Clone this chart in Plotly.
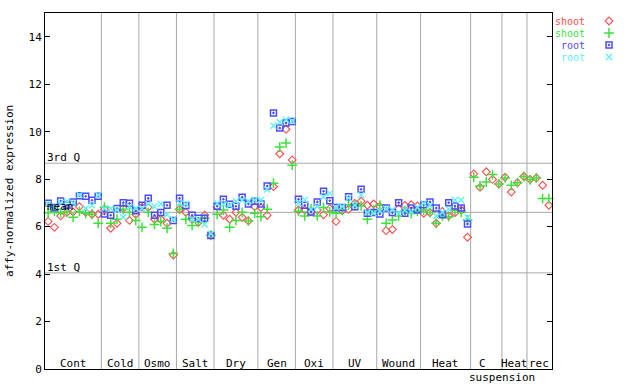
import plotly.graph_objects as go

# ---------------- data ----------------
groups = ["Cont", "Cold", "Osmo", "Salt", "Dry", "Gen", "Oxi", "UV", "Wound", "Heat", "C", "Heat", "rec"]
group_sizes = [9, 6, 6, 6, 7, 6, 6, 7, 7, 8, 5, 4, 4]

shoot_red = [6.22, 5.97, 6.45, 6.60, 6.62, 6.84, 6.60, 6.52, 6.52,
             6.73, 5.93, 6.14, 6.77, 6.26, 6.52,
             6.82, 6.82, 6.31, 6.31, 6.14, 4.80,
             6.73, 6.60, 6.31, 6.18, 6.48, 5.63,
             6.84, 6.48, 6.31, 6.60, 6.39, 6.24, 6.84,
             6.80, 6.48, 7.69, 9.07, 10.10, 8.81,
             6.70, 6.70, 6.62, 6.70, 6.50, 6.76,
             6.22, 6.67, 6.73, 6.98, 7.07, 6.90, 6.95,
             6.85, 5.83, 5.88, 6.75, 6.89, 6.92, 6.87,
             6.56, 6.59, 6.14, 6.64, 6.45, 6.59, 6.70, 5.55,
             8.22, 7.66, 8.31, 7.99, 7.80,
             8.08, 7.46, 7.85, 8.11,
             7.99, 8.05, 7.74, 6.90]

shoot_green = [6.58, 6.65, 6.58, 6.62, 6.39, 6.64, 6.56, 6.52, 6.14,
               6.82, 6.14, 6.31, 6.73, 6.60, 6.26,
               5.97, 6.60, 6.09, 6.22, 5.93, 4.87,
               6.73, 6.31, 6.05, 6.18, 6.35, 5.63,
               6.52, 6.70, 5.97, 6.26, 6.60, 6.24, 6.56,
               6.42, 6.73, 7.83, 9.35, 9.52, 8.59,
               6.65, 6.45, 6.76, 6.45, 6.81, 6.62,
               6.56, 6.70, 6.92, 6.90, 6.87, 6.31, 6.70,
               6.90, 6.14, 6.28, 6.45, 6.67, 6.56, 6.64,
               6.70, 6.59, 6.14, 6.45, 6.42, 6.70, 6.60, 6.28,
               8.08, 7.71, 7.88, 8.19, 7.80,
               8.05, 7.74, 7.85, 8.11,
               7.97, 8.05, 7.18, 7.18]

root_blue = [6.98, 6.80, 7.08, 6.90, 7.04, 7.30, 7.28, 7.11, 7.28,
             6.53, 6.48, 6.76, 7.01, 6.98, 6.67,
             6.90, 7.19, 6.48, 6.59, 6.90, 6.26,
             7.19, 6.89, 6.48, 6.35, 6.35, 5.63,
             6.86, 7.15, 6.94, 6.86, 7.24, 6.95, 7.07,
             6.95, 7.71, 10.79, 10.15, 10.36, 10.43,
             7.15, 6.90, 6.62, 7.04, 7.49, 7.09,
             6.81, 6.81, 7.26, 6.84, 7.57, 6.56, 6.59,
             6.53, 6.78, 6.59, 7.01, 6.56, 6.78, 6.70,
             6.92, 7.04, 6.78, 6.50, 7.01, 6.87, 6.78, 6.11,
             None, None, None, None, None,
             None, None, None, None,
             None, None, None, None]

root_cyan = [6.95, 6.85, 7.00, 7.07, 7.00, 7.33, 6.76, 6.90, 7.33,
             6.76, 6.76, 6.70, 6.39, 6.84, 6.76,
             6.75, 6.95, 6.85, 6.95, 6.50, 6.30,
             6.98, 6.95, 6.31, 6.31, 6.09, 5.70,
             6.98, 6.94, 6.90, 7.07, 7.12, 7.07, 7.12,
             7.12, 7.56, 10.25, 10.40, 10.50, 10.45,
             6.98, 7.12, 6.73, 6.85, 7.26, 7.40,
             6.80, 6.85, 7.20, 6.90, 7.33, 6.60, 6.56,
             6.66, 6.75, 6.70, 6.56, 6.70, 6.62, 6.80,
             6.98, 6.90, 6.45, 6.60, 6.73, 7.12, 7.12, 6.39,
             None, None, None, None, None,
             None, None, None, None,
             None, None, None, None]

mean_val = 6.60
q3_val = 8.67
q1_val = 4.05
y_ticks = [0, 2, 4, 6, 8, 10, 12, 14]

series_names = ["shoot", "shoot", "root", "root"]
series_colors = ["#ff4d4d", "#3ee03e", "#4b4bff", "#5ff2f2"]

# ---------------- figure ----------------
W, H = 640, 384
FONT = "DejaVu Sans Mono"
n = len(shoot_red)
xs = list(range(n))
GRAY = "#a8a8a8"

fig = go.Figure()

symbols = [dict(symbol="diamond-open", size=6, lw=1.1),
           dict(symbol="cross-thin-open", size=7, lw=1.5),
           dict(symbol="square-open-dot", size=6, lw=1.5),
           dict(symbol="x-thin-open", size=6, lw=1.4)]
all_series = [shoot_red, shoot_green, root_blue, root_cyan]

for vals, name, col, sym in zip(all_series, series_names, series_colors, symbols):
    fig.add_trace(go.Scatter(
        x=xs, y=vals, mode="markers", name=name,
        marker=dict(symbol=sym["symbol"], size=sym["size"], color=col,
                    line=dict(color=col, width=sym["lw"])),
        showlegend=False, cliponaxis=False))

# group separators
shapes = []
pos = 0
bounds = []
for s in group_sizes:
    bounds.append((pos, pos + s))
    pos += s
for (a, b) in bounds[:-1]:
    shapes.append(dict(type="line", xref="x", yref="y", x0=b - 0.5, x1=b - 0.5, y0=0, y1=15,
                       line=dict(color=GRAY, width=1), layer="below"))
# reference lines
for v in [mean_val, q3_val, q1_val]:
    shapes.append(dict(type="line", xref="x", yref="y", x0=-0.5, x1=n - 0.5, y0=v, y1=v,
                       line=dict(color=GRAY, width=1), layer="below"))

annotations = []
for (a, b), g in zip(bounds, groups):
    annotations.append(dict(x=(a + b - 1) / 2, y=0.25, xref="x", yref="y", text=g,
                            showarrow=False, yanchor="middle", xanchor="center",
                            xshift=-4 if g == "C" else 0,
                            font=dict(family=FONT, size=11, color="black")))
# "suspension" under the C group (below the axis, so placed in paper space vertically)
ci = groups.index("C")
annotations.append(dict(x=bounds[ci][0] - 0.5, y=1 - 377 / H, xref="x", yref="paper",
                        text="suspension", showarrow=False, xanchor="left", yanchor="middle",
                        xshift=-4, font=dict(family=FONT, size=11, color="black")))

for v, t in [(q3_val, "3rd Q"), (mean_val, "mean"), (q1_val, "1st Q")]:
    annotations.append(dict(x=-0.5, y=v, xref="x", yref="y", text=t, showarrow=False,
                            xanchor="left", yanchor="bottom", yshift=-3,
                            font=dict(family=FONT, size=11, color="black")))

# y title
annotations.append(dict(x=10 / W, y=(1 - 191 / H), xref="paper", yref="paper",
                        text="affy-normalized expression", textangle=-90, showarrow=False,
                        xanchor="center", yanchor="middle",
                        font=dict(family=FONT, size=11, color="black")))

# custom legend (text left, symbol right)
leg_rows = [21, 33, 45, 57]
for yy, name, col in zip(leg_rows, series_names, series_colors):
    annotations.append(dict(x=587 / W, y=1 - yy / H, xref="paper", yref="paper", text=name,
                            showarrow=False, xanchor="right", yanchor="middle",
                            font=dict(family=FONT, size=10, color=col)))
for yy, col, sym in zip(leg_rows, series_colors, symbols):
    fig.add_trace(go.Scatter(
        x=[609], y=[yy], mode="markers", xaxis="x2", yaxis="y2", showlegend=False,
        hoverinfo="skip",
        marker=dict(symbol=sym["symbol"], size=sym["size"], color=col,
                    line=dict(color=col, width=sym["lw"]))))

fig.update_layout(
    width=W, height=H, autosize=False,
    margin=dict(l=0, r=0, t=0, b=0, pad=0),
    plot_bgcolor="rgba(0,0,0,0)", paper_bgcolor="white",
    showlegend=False,
    font=dict(family=FONT, size=11, color="black"),
    xaxis=dict(domain=[45 / W, 552 / W], range=[-0.5, n - 0.5], showgrid=False,
               zeroline=False, showticklabels=False, ticks="", automargin=False,
               showline=True, linecolor="black", linewidth=1, mirror=True),
    yaxis=dict(domain=[(H - 369) / H, (H - 13) / H], range=[0, 15], tickvals=y_ticks,
               showgrid=False, zeroline=False, ticks="inside", ticklen=5, automargin=False,
               tickcolor="black", showline=True, linecolor="black", linewidth=1,
               mirror="ticks", tickfont=dict(family=FONT, size=11, color="black")),
    xaxis2=dict(domain=[0, 1], range=[0, W], visible=False, anchor="y2", automargin=False),
    yaxis2=dict(domain=[0, 1], range=[H, 0], visible=False, anchor="x2", automargin=False),
    shapes=shapes,
    annotations=annotations,
)

fig.write_html("out.html", config={"displayModeBar": False},
               post_script="document.body.style.margin='0px';")
